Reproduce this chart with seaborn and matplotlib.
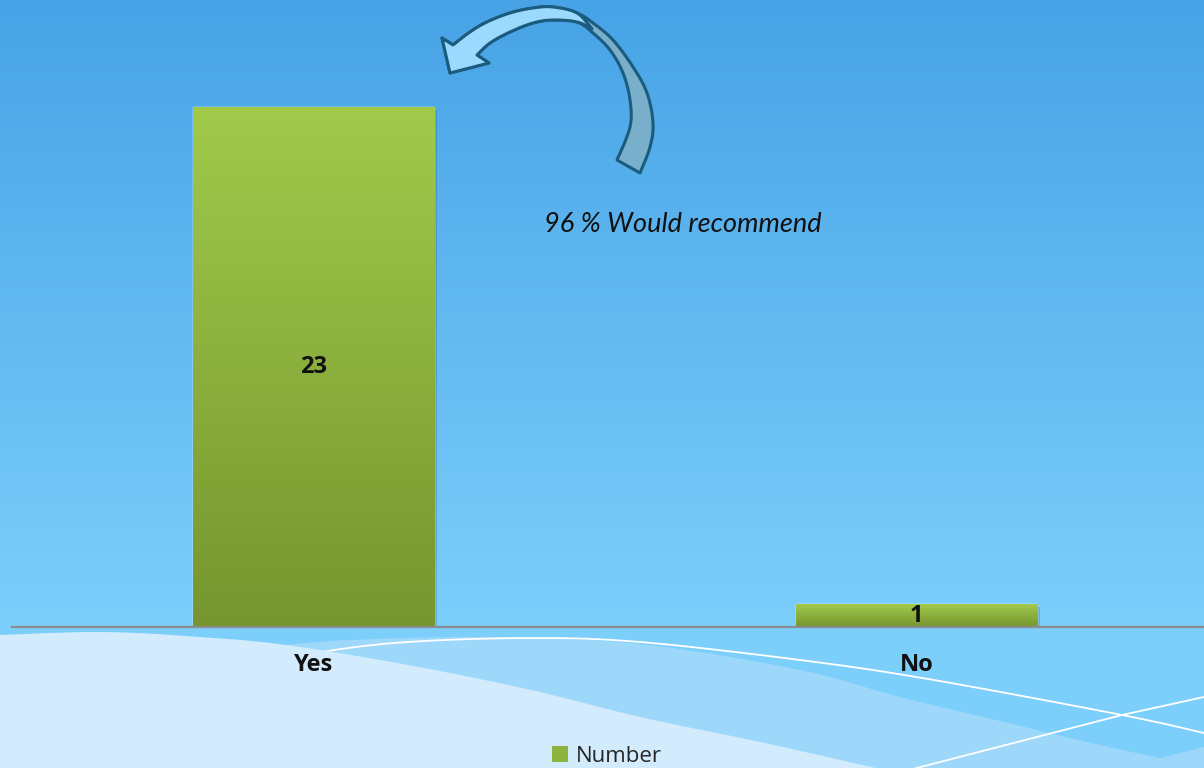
import numpy as np
import pandas as pd
import matplotlib
matplotlib.use("Agg")
import matplotlib.pyplot as plt
import matplotlib.patheffects as pe
import seaborn as sns
from matplotlib.colors import LinearSegmentedColormap
from matplotlib.patches import Polygon, Rectangle

# ---- data ----
categories = ["Yes", "No"]
counts = [23, 1]
series_name = "Number"
note = "96 % Would recommend"

W, H = 1204, 768
sns.set_theme(style="white")
plt.rcParams["font.family"] = ["Open Sans", "DejaVu Sans"]

fig = plt.figure(figsize=(W / 100, H / 100), dpi=100)


def smooth(pts, n=14):
    """Catmull-Rom spline through the given points."""
    p = np.asarray(pts, float)
    p = np.vstack([p[0], p, p[-1]])
    out = []
    for i in range(1, len(p) - 2):
        p0, p1, p2, p3 = p[i - 1], p[i], p[i + 1], p[i + 2]
        for s in np.linspace(0, 1, n, endpoint=False):
            out.append(0.5 * ((2 * p1) + (-p0 + p2) * s
                              + (2 * p0 - 5 * p1 + 4 * p2 - p3) * s ** 2
                              + (-p0 + 3 * p1 - 3 * p2 + p3) * s ** 3))
    out.append(p[-2])
    return np.array(out)


# ---- background layer (pixel coordinates, y pointing down) ----
bg = fig.add_axes([0, 0, 1, 1], zorder=0)
bg.set_xlim(0, W)
bg.set_ylim(H, 0)
bg.axis("off")

top_c = np.array([0x47, 0xA3, 0xE6]) / 255
bot_c = np.array([0x7C, 0xCF, 0xFB]) / 255
frac = np.clip(np.arange(H) / 627.0, 0, 1)[:, None, None]
grad = top_c[None, None, :] * (1 - frac) + bot_c[None, None, :] * frac
bg.imshow(grad, extent=(0, W, H, 0), aspect="auto", zorder=0)

# decorative waves along the bottom
band_top = smooth([(286, 645), (350, 640), (490, 637), (640, 644), (800, 670),
                   (900, 697), (1000, 721), (1100, 745), (1160, 758)])
band = np.vstack([band_top, [(1204, 747), (1204, H + 5), (280, H + 5)]])
bg.add_patch(Polygon(band, closed=True, fc="#9DD8FB", ec="none", zorder=1))

line1 = smooth([(250, 668), (322, 652), (408, 642), (531, 638), (640, 642),
                (800, 660), (928, 679), (1122, 715), (1204, 733)])
bg.plot(line1[:, 0], line1[:, 1], color="white", lw=1.3, zorder=2)
bg.plot([913, 1122, 1204], [769, 715, 697], color="white", lw=1.3, zorder=2)

light_top = smooth([(0, 635), (102, 632), (200, 637), (286, 645), (408, 665),
                    (531, 690), (640, 717), (760, 742), (880, 769)])
light = np.vstack([light_top, [(880, H + 5), (0, H + 5)]])
bg.add_patch(Polygon(light, closed=True, fc="#D3ECFD", ec="none", zorder=3))

# curved call-out arrow
edge = "#1B5C7E"
head = np.array([(442, 38), (450, 73), (489, 63)])
inner = smooth([(477, 55), (490, 43), (510, 32), (533, 23), (553, 20),
                (577, 22), (593, 33), (610, 50), (623, 73), (630, 100),
                (630, 127), (617, 160)])
outer = smooth([(453, 45), (470, 32), (487, 22), (510, 13), (533, 8),
                (553, 7), (577, 13), (593, 23), (613, 40), (633, 67),
                (647, 93), (653, 123), (650, 147), (640, 173)])
outline = np.vstack([head[1:], inner, outer[::-1], head[:1]])
bg.add_patch(Polygon(outline, closed=True, fc="#7AAFCB", ec=edge, lw=2.2,
                     joinstyle="round", zorder=4))
f_in = smooth([(477, 55), (490, 43), (510, 32), (533, 23), (553, 20),
               (577, 22), (592, 29)])
f_out = smooth([(453, 45), (470, 32), (487, 22), (510, 13), (533, 8),
                (553, 7), (577, 13), (592, 29)])
front = np.vstack([head[1:], f_in, f_out[::-1], head[:1]])
bg.add_patch(Polygon(front, closed=True, fc="#9BDAFE", ec=edge, lw=2.2,
                     joinstyle="round", zorder=5))

bg.text(683, 224, note, ha="center", va="center", fontsize=19.5,
        style="italic", family=["Lato", "DejaVu Sans"], color="#111111",
        zorder=6)

# ---- chart axes ----
px_per_unit = 520 / 23.0
ymax = 565 / px_per_unit
ax = fig.add_axes([12 / W, (H - 627) / H, 1206 / W, 565 / H], zorder=1)
ax.patch.set_alpha(0)

df = pd.DataFrame({"category": categories, "count": counts})
sns.barplot(data=df, x="category", y="count", width=0.4, color="#8DB43E",
            ax=ax, saturation=1, zorder=2)

bar_cmap = LinearSegmentedColormap.from_list("bar", ["#76952F", "#A1CA4B"])
ramp = np.linspace(0, 1, 256)[:, None]
for patch in ax.patches:
    x0, y0 = patch.get_x(), patch.get_y()
    w, h = patch.get_width(), patch.get_height()
    patch.set_path_effects([pe.SimplePatchShadow(offset=(2, -2), alpha=0.25,
                                                 shadow_rgbFace="#1d4f75"),
                            pe.Normal()])
    im = ax.imshow(ramp, cmap=bar_cmap, origin="lower", aspect="auto",
                   extent=(x0, x0 + w, y0, y0 + h), zorder=3)
    im.set_clip_path(patch)

for cont in ax.containers:
    ax.bar_label(cont, label_type="center", fontsize=17, fontweight="bold",
                 color="#111111", zorder=5)

ax.set_xlim(-0.5, 1.5)
ax.set_ylim(0, ymax)
ax.set_xlabel("")
ax.set_ylabel("")
ax.set_yticks([])
ax.set_xticks([0, 1])
ax.set_xticklabels(categories, fontsize=17, fontweight="bold", color="#111111")
ax.set_xticks([-0.5, 0.5, 1.5], minor=True)
ax.tick_params(axis="x", which="major", length=0, pad=19)
ax.tick_params(axis="x", which="minor", length=6, width=1.5, color="#8C8C8C",
               direction="out")
for side in ("top", "left", "right"):
    ax.spines[side].set_visible(False)
ax.spines["bottom"].set_color("#8C8C8C")
ax.spines["bottom"].set_linewidth(1.6)
ax.spines["bottom"].set_zorder(4)

handle = Rectangle((0, 0), 1, 1, fc="#8DB43E", ec="none")
fig.legend([handle], [series_name], loc="center",
           bbox_to_anchor=(607 / W, 1 - 756 / H), frameon=False, fontsize=16,
           handlelength=0.7, handleheight=0.7, handletextpad=0.35)

fig.savefig("out.png", dpi=100)
